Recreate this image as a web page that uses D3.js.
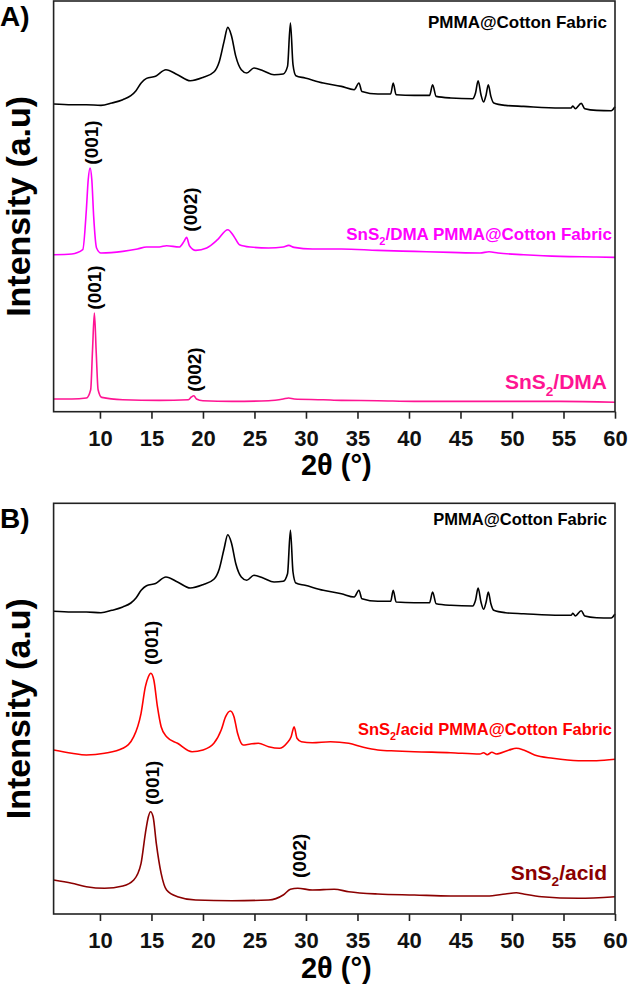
<!DOCTYPE html>
<html>
<head>
<meta charset="utf-8">
<script src="https://cdn.jsdelivr.net/npm/d3@7"></script>
<style>
body { margin: 0; background: #fff; }
text { font-family: Arial, "Liberation Sans", sans-serif; font-weight: bold; }
</style>
</head>
<body>
<svg width="628" height="991"></svg>
<script>
// 2theta (deg), intensity (a.u.)
var pmmaCotton = [[5.5,307.7],[7.27,307],[8.68,307],[10.1,306.3],[11.16,308.7],[12.22,312],[13.0,316],[13.5,321],[14.0,328.7],
  [14.52,333.3],[15.4,335.5],[16.4,342],[17.53,337],[18.77,331],[20.0,334.3],[21.06,339.7],[21.59,350.3],[22.05,370.3],
  [22.41,384.3],[22.76,376.3],[23.19,355.3],[23.72,342],[24.25,338.7],[24.95,343.7],[25.84,341],[26.9,337],[27.79,337.7],
  [28.21,345.3],[28.49,388.7],[28.74,347],[29.02,336],[29.91,333.7],[31.68,328.7],[33.44,325.3],[34.68,322],[35.14,328.7],
  [35.43,320.3],[36.98,317.7],[38.22,317.7],[38.47,328.7],[38.75,317],[40.52,316.3],[42.0,316.3],[42.29,327],[42.64,315.3],
  [44.06,313.7],[46.18,313],[46.46,318.7],[46.71,331],[46.99,317],[47.24,309.7],[47.49,317],[47.7,327],[47.95,315.3],
  [48.23,308.7],[49.36,306.3],[51.13,305.3],[54.67,303.7],[55.73,303.7],[55.91,305.7],[56.15,303],[56.72,308.3],
  [57.07,303],[58.21,301.3],[59.62,301],[60,305]];

var dmaPmmaCotton = [[5.5,157],[7.27,157.7],[8.33,162],[8.68,202],[8.86,232],[9.04,243.7],[9.21,232],[9.39,195.3],
  [9.67,163.7],[10.1,158.7],[12.22,160.3],[13.64,162.7],[14.52,164.7],[15.76,164.7],[16.47,166],[17.7,164.7],[18.16,170.3],
  [18.41,174.3],[18.69,166],[19.3,161.3],[20.36,163.7],[21.42,172],[22.41,182],[23.01,175.3],[23.54,167],[24.6,164.7],
  [26.37,163.7],[27.79,164.7],[28.32,166.3],[28.85,164.3],[30.62,162.7],[33.44,162.7],[36.98,161.3],[40.52,160.3],
  [44.06,159.3],[46.89,158.7],[47.77,160],[48.65,158.7],[51.13,157],[54.67,155.3],[58.21,154.7],[60,154.3]];

var dma = [[5.5,12.7],[7.27,12.7],[8.68,13.7],[9.1,22],[9.28,62],[9.46,98.7],[9.64,58.7],[9.82,22],[10.17,14.3],
  [12.22,12],[15.76,11.3],[18.59,12],[18.87,14.7],[19.12,16],[19.37,12.7],[20.0,11],[22.83,10.3],[26.37,11],[27.79,12.7],
  [28.32,13.7],[28.85,12.7],[31.68,12],[33.44,11.3],[36.98,11],[40.52,10.3],[47.6,10.3],[54.67,10.3],[60,9.5]];

var acidPmmaCotton = [[5.5,164],[7.27,160.7],[8.68,159],[10.45,160.7],[12.22,165.7],[13.28,177.3],[13.99,200.7],
  [14.41,227.3],[14.7,237.3],[14.94,240.7],[15.23,234],[15.58,207.3],[15.94,187.3],[16.47,177.3],[17.53,170.7],
  [18.94,162.3],[20.0,164],[21.06,170.7],[21.77,184],[22.2,197.3],[22.66,203],[23.01,197.3],[23.36,180.7],[23.89,169],
  [24.6,170],[25.38,170.7],[26.37,167.3],[27.43,165.7],[28.14,170.7],[28.56,177.3],[28.85,187.3],[29.13,175.7],
  [29.55,172.3],[30.62,171.3],[32.38,172.3],[34.15,170.7],[35.57,166.7],[36.98,164],[38.75,163],[40.52,162.3],
  [44.06,161.3],[46.89,160],[47.24,161.3],[47.59,159.3],[48.05,161.7],[48.48,160],[49.72,164],[50.42,165.7],
  [51.13,164],[52.19,159],[53.96,155.7],[56.44,153.3],[58.21,153.3],[60,154.7]];

var acid = [[5.5,34],[7.27,30.7],[8.68,27.3],[10.45,25.7],[12.22,28],[13.28,34],[13.99,50.7],[14.41,80.7],[14.7,97.3],
  [14.91,102.3],[15.16,97.3],[15.47,70.7],[15.94,40.7],[16.47,24],[17.53,17.3],[19.3,14],[22.83,13.3],[26.37,14],
  [27.79,19],[28.49,24.7],[29.2,25.7],[30.62,24],[32.74,24.7],[34.15,22.3],[36.98,20],[40.52,19],[44.06,18],[47.59,18],
  [49.36,20],[50.42,21.3],[51.13,20],[52.9,17.3],[56.44,15.7],[60,17.3]];

var xTicks = [10, 15, 20, 25, 30, 35, 40, 45, 50, 55, 60];
var xDomain = [5.5, 60];
var yDomain = [0, 410.7];

var svg = d3.select("svg");

var panels = [
  { label: "A)", top: 1, series: [
      { data: pmmaCotton, color: "#000000", shift: 0 },
      { data: dmaPmmaCotton, color: "#ff00ff", shift: 0 },
      { data: dma, color: "#ff1493", shift: 0 } ],
    names: [
      { pre: "PMMA@Cotton Fabric", sub: "", post: "", color: "#000", size: 17, at: 383.5 },
      { pre: "SnS", sub: "2", post: "/DMA PMMA@Cotton Fabric", color: "#ff00ff", size: 17, at: 171.5, right: 612 },
      { pre: "SnS", sub: "2", post: "/DMA", color: "#ff1493", size: 21, at: 22.5 } ],
    peaks: [["(001)", 9.22, 247], ["(002)", 18.83, 180], ["(001)", 9.47, 102], ["(002)", 19.13, 20]] },
  { label: "B)", top: 503.3, series: [
      { data: pmmaCotton, color: "#000000", shift: -5 },
      { data: acidPmmaCotton, color: "#ff0000", shift: 0 },
      { data: acid, color: "#8b0000", shift: 0 } ],
    names: [
      { pre: "PMMA@Cotton Fabric", sub: "", post: "", color: "#000", size: 16.5, at: 389 },
      { pre: "SnS", sub: "2", post: "/acid PMMA@Cotton Fabric", color: "#ff0000", size: 16.5, at: 179, right: 612 },
      { pre: "SnS", sub: "2", post: "/acid", color: "#8b0000", size: 21, at: 34 } ],
    peaks: [["(001)", 15.05, 249], ["(001)", 15.1, 109], ["(002)", 29.42, 36]] }
];

var left = 53.6, right = 615, plotH = 410.7;

var x = d3.scaleLinear().domain(xDomain).range([left, right]);

panels.forEach(function(p) {
  var bottom = p.top + plotH;
  var y = d3.scaleLinear().domain(yDomain).range([bottom, p.top]);
  var g = svg.append("g");

  var line = function(shift) {
    return d3.line()
      .curve(d3.curveMonotoneX)
      .x(function(d) { return x(d[0]); })
      .y(function(d) { return y(d[1] + shift); });
  };

  p.series.forEach(function(s) {
    g.append("path")
      .attr("d", line(s.shift)(s.data))
      .attr("fill", "none")
      .attr("stroke", s.color)
      .attr("stroke-width", 1.6)
      .attr("stroke-linejoin", "round");
  });

  // frame
  g.append("rect")
    .attr("x", left).attr("y", p.top)
    .attr("width", right - left).attr("height", plotH)
    .attr("fill", "none").attr("stroke", "#222").attr("stroke-width", 1.6);

  var ax = g.append("g")
    .attr("transform", "translate(0," + bottom + ")")
    .call(d3.axisBottom(x).tickValues(xTicks).tickSize(7).tickSizeOuter(0).tickPadding(11.5));
  ax.select(".domain").remove();
  ax.selectAll(".tick line").attr("stroke", "#222").attr("stroke-width", 1.6);
  ax.selectAll(".tick text")
    .attr("fill", "#111")
    .style("font-size", "22px")
    .style("font-family", "Arial, 'Liberation Sans', sans-serif")
    .style("font-weight", "bold");

  // axis titles
  g.append("text")
    .attr("x", (left + right) / 2 + 2).attr("y", bottom + 63.5)
    .attr("text-anchor", "middle")
    .style("font-size", "29px")
    .text("2θ (°)");

  g.append("text")
    .attr("transform", "translate(30," + (p.top + plotH / 2) + ") rotate(-90)")
    .attr("text-anchor", "middle")
    .style("font-size", "34px")
    .text("Intensity (a.u)");

  g.append("text")
    .attr("x", 0).attr("y", p.top + 24.5)
    .style("font-size", "28px")
    .text(p.label);

  // sample names
  p.names.forEach(function(n) {
    var t = g.append("text")
      .attr("x", n.right || 607).attr("y", y(n.at))
      .attr("text-anchor", "end")
      .attr("fill", n.color)
      .style("font-size", n.size + "px");
    t.append("tspan").text(n.pre);
    if (n.sub) {
      t.append("tspan").attr("dy", n.size * 0.3).style("font-size", (n.size * 0.65) + "px").text(n.sub);
      t.append("tspan").attr("dy", -n.size * 0.3).text(n.post);
    }
  });

  // peak indices
  p.peaks.forEach(function(k) {
    g.append("text")
      .attr("transform", "translate(" + x(k[1]) + "," + y(k[2]) + ") rotate(-90)")
      .attr("dominant-baseline", "central")
      .style("font-size", "19px")
      .text(k[0]);
  });
});
</script>
</body>
</html>
